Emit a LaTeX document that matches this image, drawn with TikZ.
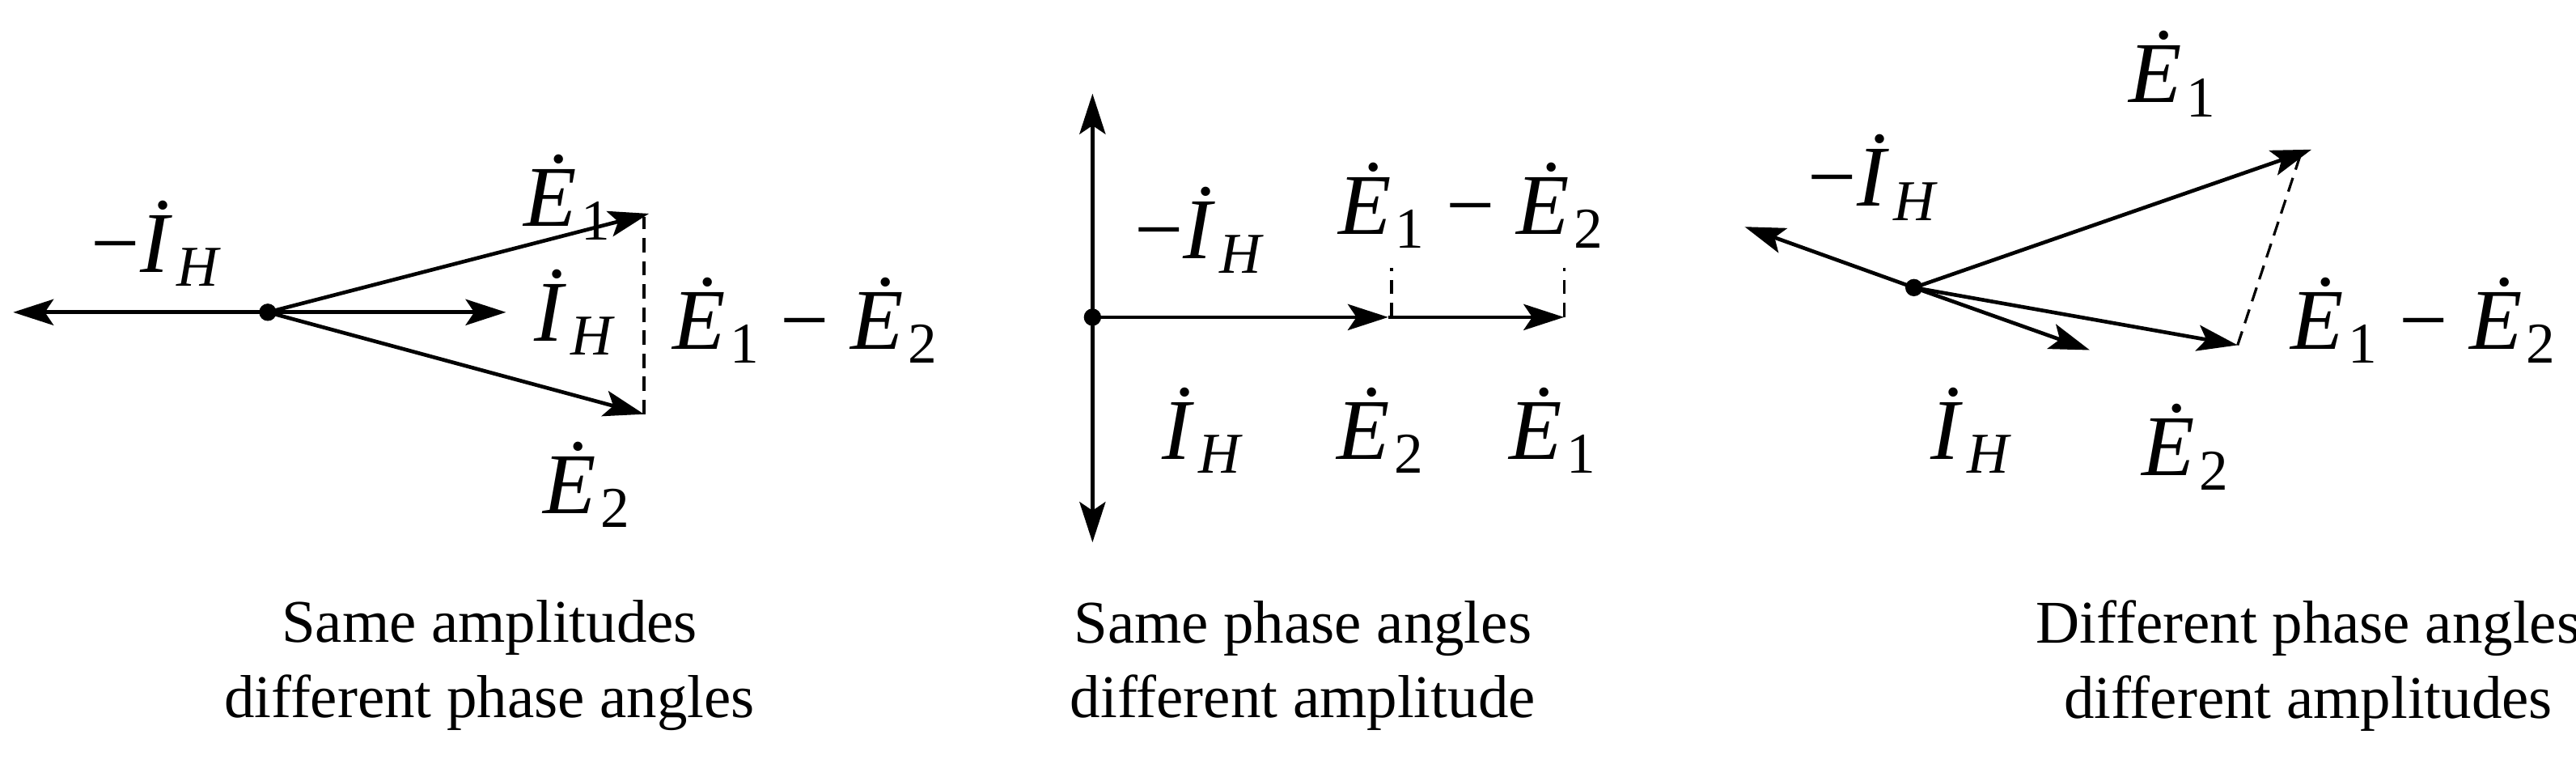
\documentclass[tikz,border=0pt]{standalone}
\usepackage{fontspec}
\setmainfont{Liberation Serif}
\usetikzlibrary{arrows.meta}
\newcommand{\vE}[1]{\textit{\.{E}}\kern0.05em\raisebox{-0.35ex}{\fontsize{20}{24}\selectfont #1}}
\newcommand{\vI}{\textit{\.{I}}\kern0.05em\raisebox{-0.35ex}{\fontsize{20}{24}\selectfont\textit{H}}}
\begin{document}
\begin{tikzpicture}[x=0.02cm,y=-0.02cm,
  vec/.style={line width=1.3pt,-{Stealth[length=14pt,width=9pt,inset=3pt]}},
  dvec/.style={line width=1.3pt,{Stealth[length=14pt,width=9pt,inset=3pt]}-{Stealth[length=14pt,width=9pt,inset=3pt]}},
  dline/.style={line width=0.9pt,dash pattern=on 5pt off 3pt},
  lab/.style={font=\fontsize{30}{36}\selectfont,inner sep=0pt},
  captext/.style={font=\fontsize{21}{26}\selectfont,align=center,inner sep=0pt}]
\useasboundingbox (0,0) rectangle (1568,462);
% panel 1
\coordinate (o1) at (163,190);
\coordinate (a1) at (8,190);
\coordinate (b1) at (308,190);
\coordinate (e11) at (395,130);
\coordinate (e21) at (392,252);
\coordinate (d1) at (392,132);
\draw[vec] (o1) -- (a1);
\draw[vec] (o1) -- (b1);
\draw[vec] (o1) -- (e11);
\draw[vec] (o1) -- (e21);
\draw[dline] (e21) -- (d1);
\fill (o1) circle (3pt);
\node[lab] (l1) at (95,148) {\textminus\vI};
\node[lab] (l2) at (345,120) {\vE{1}};
\node[lab] (l3) at (350,190) {\vI};
\node[lab] (l4) at (490,195) {\vE{1} \textminus\ \vE{2}};
\node[lab] (l5) at (357,295) {\vE{2}};
\node[captext] (c1) at (298,405) {Same amplitudes\\different phase angles};
% panel 2
\coordinate (o2) at (665,193);
\coordinate (t2) at (665,57);
\coordinate (u2) at (665,330);
\coordinate (e22) at (845,193);
\coordinate (e12) at (952,193);
\draw[dvec] (t2) -- (u2);
\draw[vec] (o2) -- (e22);
\draw[vec] (e22) -- (e12);
\draw[dline] (847,193) -- (847,163);
\draw[dline] (952,193) -- (952,163);
\fill (o2) circle (3pt);
\node[lab] (m1) at (730,140) {\textminus\vI};
\node[lab] (m2) at (895,125) {\vE{1} \textminus\ \vE{2}};
\node[lab] (m3) at (732,262) {\vI};
\node[lab] (m4) at (840,262) {\vE{2}};
\node[lab] (m5) at (945,262) {\vE{1}};
\node[captext] (c2) at (793,405) {Same phase angles\\different amplitude};
% panel 3
\coordinate (o3) at (1165,175);
\coordinate (a3) at (1062,138);
\coordinate (e13) at (1407,91);
\coordinate (i3) at (1272,213);
\coordinate (e23) at (1362,210);
\draw[vec] (o3) -- (a3);
\draw[vec] (o3) -- (e13);
\draw[vec] (o3) -- (i3);
\draw[vec] (o3) -- (e23);
\draw[dline] (e23) -- (1400,95);
\fill (o3) circle (3pt);
\node[lab] (n1) at (1322,45) {\vE{1}};
\node[lab] (n2) at (1140,108) {\textminus\vI};
\node[lab] (n3) at (1475,195) {\vE{1} \textminus\ \vE{2}};
\node[lab] (n4) at (1200,262) {\vI};
\node[lab] (n5) at (1330,272) {\vE{2}};
\node[captext] (c3) at (1405,405) {Different phase angles\\different amplitudes};
\end{tikzpicture}
\end{document}
